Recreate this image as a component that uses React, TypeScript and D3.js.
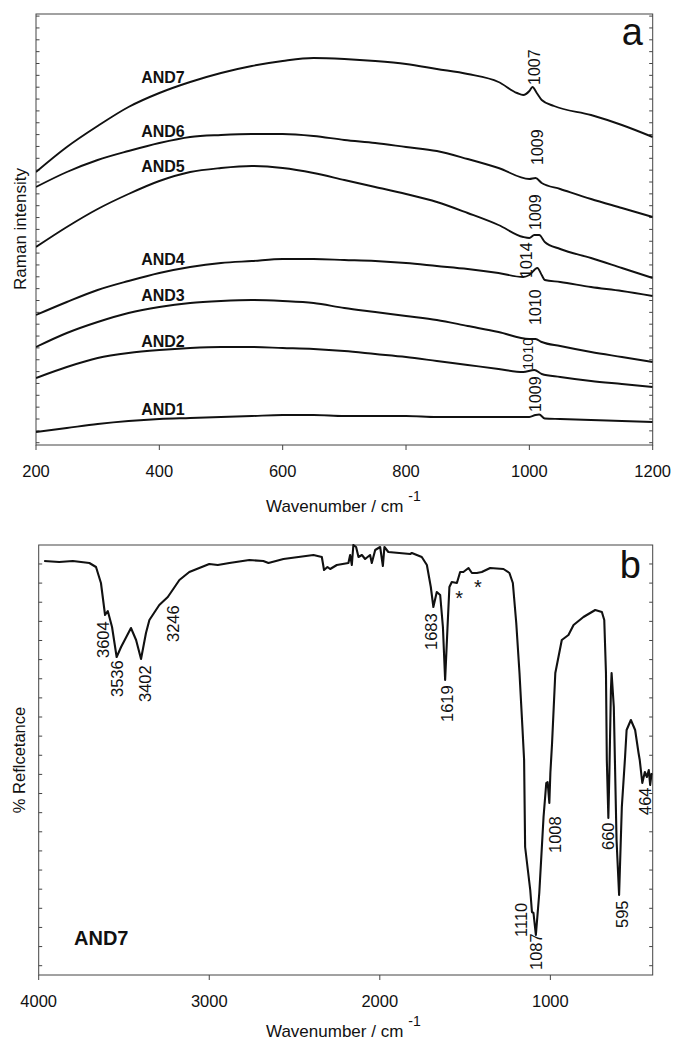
import React from "react";
import * as d3 from "d3";

// ---------- Panel a: Raman spectra (wavenumber cm-1, intensity arb. units) ----------
const AND7: [number, number][] = [
  [200, 273], [250, 298], [300, 319], [350, 338], [400, 352], [450, 363], [500, 372], [550, 379],
  [600, 384], [650, 387], [700, 386], [750, 384], [800, 381], [850, 376], [900, 371], [950, 363],
  [980, 352], [990, 350], [1000, 354], [1005, 358], [1012, 352], [1020, 345], [1040, 339],
  [1100, 330], [1150, 320], [1200, 308],
];
const AND6: [number, number][] = [
  [200, 258], [250, 273], [300, 285], [350, 294], [400, 302], [450, 308], [500, 310], [550, 311],
  [600, 311], [650, 309], [700, 305], [750, 302], [800, 298], [850, 294], [900, 286], [950, 277],
  [1000, 266], [1010, 267], [1020, 262], [1050, 256], [1100, 246], [1150, 237], [1200, 228],
];
const AND5: [number, number][] = [
  [200, 198], [250, 218], [300, 236], [350, 251], [400, 264], [450, 273], [500, 277], [550, 279],
  [600, 277], [650, 272], [700, 265], [750, 258], [800, 251], [850, 243], [900, 232], [950, 220],
  [990, 208], [1000, 207], [1008, 210], [1016, 210], [1025, 203], [1050, 196], [1100, 187],
  [1150, 177], [1200, 167],
];
const AND4: [number, number][] = [
  [200, 130], [250, 143], [300, 155], [350, 164], [400, 172], [450, 178], [500, 182], [550, 184],
  [600, 186], [650, 186], [700, 185], [750, 184], [800, 182], [850, 179], [900, 176], [950, 172],
  [990, 168], [1000, 170], [1013, 177], [1020, 170], [1025, 165], [1050, 163], [1100, 158],
  [1150, 154], [1200, 149],
];
const AND3: [number, number][] = [
  [200, 98], [250, 112], [300, 123], [350, 132], [400, 138], [450, 142], [500, 144], [550, 145],
  [600, 144], [650, 142], [700, 137], [750, 133], [800, 129], [850, 125], [900, 119], [950, 113],
  [1000, 106], [1010, 106], [1020, 103], [1050, 99], [1100, 93], [1150, 88], [1200, 83],
];
const AND2: [number, number][] = [
  [200, 67], [250, 78], [300, 87], [350, 92], [400, 95], [450, 97], [500, 98], [550, 98],
  [600, 97], [650, 96], [700, 94], [750, 91], [800, 88], [850, 84], [900, 80], [950, 76],
  [990, 73], [1008, 75], [1020, 71], [1050, 68], [1100, 64], [1150, 61], [1200, 58],
];
const AND1: [number, number][] = [
  [200, 13], [250, 17], [300, 21], [350, 24], [400, 26], [450, 27], [500, 28], [550, 29],
  [600, 30], [650, 30], [700, 29], [750, 29], [800, 29], [850, 28], [900, 28], [950, 28],
  [1000, 28], [1010, 30], [1016, 30.5], [1025, 26.5], [1050, 26], [1100, 25], [1150, 24], [1200, 23],
];

const ramanSeries = [AND1, AND2, AND3, AND4, AND5, AND6, AND7];
const ramanNames = ["AND1", "AND2", "AND3", "AND4", "AND5", "AND6", "AND7"];
// label anchor (wavenumber, intensity) for sample names
const ramanNameAnchors: [number, number][] = [
  [370.5, 30], [370.5, 98], [370.5, 144], [370.5, 180], [370.5, 273], [370.5, 308], [370.5, 362],
];
// peak labels: text, wavenumber (center), intensity (start of rotated text)
const ramanPeakTexts = ["1009", "1010", "1010", "1014", "1009", "1009", "1007"];
const ramanPeakAnchors: [number, number][] = [
  [1009, 33], [997, 75], [1010, 120], [995, 167], [1009, 215], [1012.5, 280], [1008, 360],
];
const ramanTicks = [200, 400, 600, 800, 1000, 1200];

// ---------- Panel b: IR spectrum of AND7 ----------
const IR: [number, number][] = [
  [3968, 414], [3880, 413], [3800, 414], [3703, 412], [3664, 408], [3635, 392], [3611, 360],
  [3595, 364], [3570, 348], [3543, 318], [3517, 328], [3459, 347], [3429, 335], [3400, 316],
  [3371, 342], [3351, 355], [3293, 370], [3243, 378], [3175, 395], [3117, 403], [3000, 411],
  [2950, 410], [2882, 412], [2765, 415], [2683, 414], [2653, 412], [2565, 416], [2389, 420],
  [2340, 418], [2327, 405], [2307, 408], [2291, 406], [2252, 410], [2184, 412], [2174, 420],
  [2164, 410], [2155, 430], [2139, 428], [2125, 418], [2105, 420], [2086, 416], [2057, 420],
  [2047, 412], [2027, 425], [2008, 427], [1998, 428], [1982, 409], [1973, 428], [1950, 423],
  [1822, 421], [1812, 422], [1754, 418], [1724, 410], [1701, 388], [1686, 368], [1666, 383],
  [1646, 380], [1630, 348], [1617, 295], [1603, 348], [1592, 388], [1578, 393], [1548, 392],
  [1529, 403], [1510, 403], [1480, 407], [1460, 402], [1431, 402], [1402, 403], [1353, 407],
  [1275, 406], [1240, 402], [1220, 392], [1200, 352], [1181, 302], [1164, 248], [1154, 215],
  [1148, 128], [1118, 85], [1108, 63], [1099, 62], [1085, 40], [1065, 82], [1040, 158],
  [1024, 192], [1016, 193], [1006, 172], [1000, 202], [990, 232], [971, 302], [933, 335],
  [894, 340], [864, 350], [806, 358], [737, 365], [698, 363], [684, 355], [674, 302], [669, 215],
  [660, 157], [654, 202], [645, 285], [641, 302], [628, 268], [612, 135], [597, 80], [581, 168],
  [562, 218], [553, 245], [528, 255], [503, 245], [483, 222], [476, 215], [461, 192], [446, 203],
  [434, 198], [423, 205], [415, 190], [406, 202],
];
const irPeakTexts = ["3604", "3536", "3402", "3246", "1683", "1619", "1110", "1087", "1008", "660", "595", "464"];
const irPeakAnchors: [number, number][] = [
  [3620, 317], [3543, 278], [3377, 273], [3213, 333], [1698, 325], [1607, 253],
  [1169, 38], [1084, 5], [972, 122], [659, 125], [581, 47], [444, 160],
];
const irStarAnchors: [number, number][] = [[1535, 369.6], [1425, 381]];
const irTicks = [4000, 3000, 2000, 1000];

const FONT = "'Liberation Sans', Arial, Helvetica, sans-serif";

export default function App() {
  const W = 675, H = 1042;
  const A = { left: 36, right: 652.7, top: 14, bottom: 445 };
  const B = { left: 38.7, right: 652.7, top: 545, bottom: 975 };

  const xA = d3.scaleLinear().domain([200, 1200]).range([A.left, A.right]);
  const yA = d3.scaleLinear().domain([0, 431]).range([A.bottom, A.top]);
  const xB = d3.scaleLinear().domain([4000, 400]).range([B.left, B.right]);
  const yB = d3.scaleLinear().domain([0, 430]).range([B.bottom, B.top]);

  const lineA = d3.line<[number, number]>().x((d) => xA(d[0])).y((d) => yA(d[1])).curve(d3.curveMonotoneX);
  const lineB = d3.line<[number, number]>().x((d) => xB(d[0])).y((d) => yB(d[1])).curve(d3.curveLinear);

  const yTicksA = d3.range(2.3, 431, 11.85);
  const yTicksB = d3.range(9.3, 430, 19.13);
  const axisColor = "#444";
  const peakFs = 16;

  const rotLabel = (x: number, y: number, t: string, fs: number, key: string) => (
    <text key={key} transform={`translate(${x + 0.36 * fs},${y}) rotate(-90)`} fontSize={fs} fontFamily={FONT} fill="#111">
      {t}
    </text>
  );

  return (
    <svg width={W} height={H} style={{ position: "absolute", left: 0, top: 0, background: "#fff" }}>
      <defs>
        <clipPath id="clipB">
          <rect x={B.left} y={B.top - 1} width={B.right - B.left} height={B.bottom - B.top + 1} />
        </clipPath>
        <clipPath id="clipA">
          <rect x={A.left} y={A.top} width={A.right - A.left} height={A.bottom - A.top} />
        </clipPath>
      </defs>

      {/* ---------- Panel a ---------- */}
      <rect x={A.left} y={A.top} width={A.right - A.left} height={A.bottom - A.top} fill="none" stroke={axisColor} strokeWidth={1} />
      {yTicksA.map((v, i) => (
        <g key={"ta" + i}>
          <line x1={A.left} x2={A.left + 3.5} y1={yA(v)} y2={yA(v)} stroke={axisColor} />
          <line x1={A.right} x2={A.right - 3.5} y1={yA(v)} y2={yA(v)} stroke={axisColor} />
        </g>
      ))}
      {ramanTicks.map((t) => (
        <g key={"xa" + t}>
          <line x1={xA(t)} x2={xA(t)} y1={A.bottom} y2={A.bottom + 5} stroke={axisColor} />
          <text x={xA(t)} y={476.7} textAnchor="middle" fontSize={16.5} fontFamily={FONT} fill="#111">{t}</text>
        </g>
      ))}
      <g clipPath="url(#clipA)">
        {ramanSeries.map((s, i) => (
          <path key={"ra" + i} d={lineA(s) || ""} fill="none" stroke="#111" strokeWidth={1.9} strokeLinejoin="round" />
        ))}
      </g>
      {ramanNames.map((n, i) => (
        <text key={"rn" + i} x={xA(ramanNameAnchors[i][0])} y={yA(ramanNameAnchors[i][1])} fontSize={16} fontWeight="bold" fontFamily={FONT} fill="#111">
          {n}
        </text>
      ))}
      {ramanPeakTexts.map((t, i) =>
        rotLabel(xA(ramanPeakAnchors[i][0]), yA(ramanPeakAnchors[i][1]), t, i === 1 ? 14.5 : peakFs, "rp" + i)
      )}
      <text x={643} y={45} textAnchor="end" fontSize={38} fontFamily={FONT} fill="#111">a</text>
      <text transform={`translate(25.5,229) rotate(-90)`} textAnchor="middle" fontSize={17} fontFamily={FONT} fill="#111">
        Raman intensity
      </text>
      <text x={266} y={511.7} fontSize={17} fontFamily={FONT} fill="#111">
        Wavenumber / cm
        <tspan dx={5} dy={-11} fontSize={14}>-1</tspan>
      </text>

      {/* ---------- Panel b ---------- */}
      <rect x={B.left} y={B.top} width={B.right - B.left} height={B.bottom - B.top} fill="none" stroke={axisColor} strokeWidth={1} />
      {yTicksB.map((v, i) => (
        <g key={"tb" + i}>
          <line x1={B.left} x2={B.left + 3.5} y1={yB(v)} y2={yB(v)} stroke={axisColor} />
          <line x1={B.right} x2={B.right - 3.5} y1={yB(v)} y2={yB(v)} stroke={axisColor} />
        </g>
      ))}
      {irTicks.map((t) => (
        <g key={"xb" + t}>
          <line x1={xB(t)} x2={xB(t)} y1={B.bottom} y2={B.bottom + 5} stroke={axisColor} />
          <text x={xB(t)} y={1006.7} textAnchor="middle" fontSize={16.5} fontFamily={FONT} fill="#111">{t}</text>
        </g>
      ))}
      <g clipPath="url(#clipB)">
        <path d={lineB(IR) || ""} fill="none" stroke="#111" strokeWidth={2.1} strokeLinejoin="round" />
      </g>
      {irPeakTexts.map((t, i) => rotLabel(xB(irPeakAnchors[i][0]), yB(irPeakAnchors[i][1]), t, 16.5, "ip" + i))}
      {irStarAnchors.map((a, i) => (
        <text key={"st" + i} x={xB(a[0])} y={yB(a[1])} textAnchor="middle" fontSize={20} fontFamily={FONT} fill="#111">*</text>
      ))}
      <text x={74} y={945} fontSize={20} fontWeight="bold" fontFamily={FONT} fill="#111">AND7</text>
      <text x={641} y={578} textAnchor="end" fontSize={38} fontFamily={FONT} fill="#111">b</text>
      <text transform={`translate(25.3,760) rotate(-90)`} textAnchor="middle" fontSize={16.5} fontFamily={FONT} fill="#111">
        % Reflcetance
      </text>
      <text x={266} y={1036.5} fontSize={17} fontFamily={FONT} fill="#111">
        Wavenumber / cm
        <tspan dx={5} dy={-11} fontSize={14}>-1</tspan>
      </text>
    </svg>
  );
}
